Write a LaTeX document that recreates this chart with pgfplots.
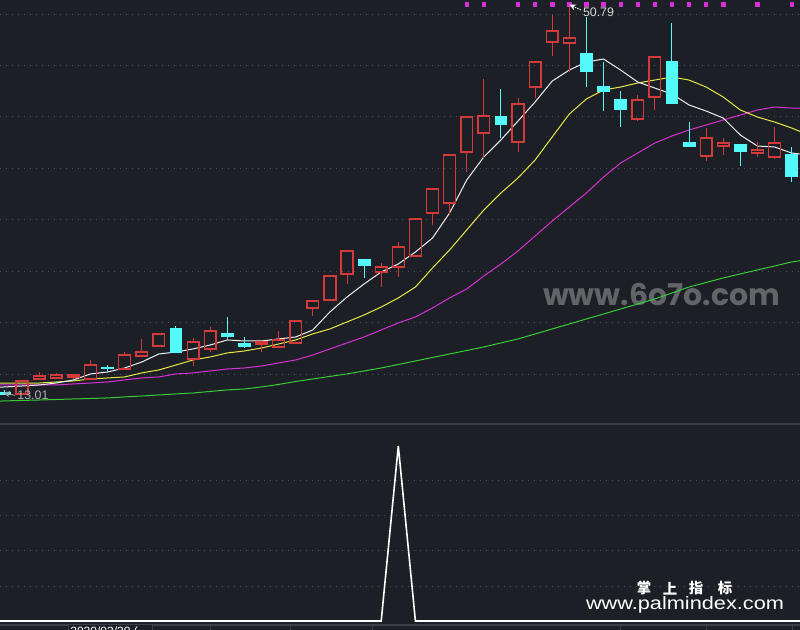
\documentclass[border=0pt]{standalone}
\usepackage{fontspec}
\setmainfont{Liberation Sans}
\newfontfamily\cjk{Noto Sans CJK SC}
\newfontfamily\wmfont{Poppins}
\usepackage{graphicx}
\usepackage{pgfplots}
\usepackage{pgfplotstable}
\pgfplotsset{compat=1.18}

\definecolor{bg}{RGB}{29,31,38}
\definecolor{gridc}{RGB}{78,82,92}
\definecolor{sepc}{RGB}{58,63,74}
\definecolor{kred}{RGB}{212,58,58}
\definecolor{kcyan}{RGB}{84,250,250}
\definecolor{maw}{RGB}{240,240,240}
\definecolor{may}{RGB}{232,232,70}
\definecolor{mam}{RGB}{214,48,214}
\definecolor{mag}{RGB}{56,204,56}
\definecolor{wmc}{RGB}{98,100,104}

% daily bars: index, open, high, low, close
\pgfplotstableread{
i o h l c
0 13.30 13.45 13.01 13.05
1 13.11 14.40 13.08 14.37
2 14.56 15.24 14.50 14.85
3 14.66 15.14 14.56 14.95
4 14.76 15.00 14.56 14.95
5 14.56 16.41 14.50 15.92
6 15.73 15.92 15.24 15.63
7 15.53 17.18 15.50 16.89
8 16.79 18.45 16.75 17.18
9 17.77 18.95 17.75 18.93
10 19.51 19.71 17.09 17.18
11 16.50 18.54 15.82 18.16
12 17.48 19.61 17.18 19.22
13 19.03 20.58 18.45 18.74
14 18.06 18.64 17.57 17.77
15 17.96 18.20 17.18 18.16
16 17.67 19.22 17.60 18.35
17 18.06 20.25 18.00 20.19
18 21.46 22.20 20.68 22.14
19 22.23 24.60 22.20 24.56
20 24.76 27.00 23.78 26.99
21 26.21 26.25 24.37 25.63
22 24.95 25.83 23.49 25.44
23 25.44 27.86 24.47 27.38
24 26.51 30.15 26.45 30.10
25 30.68 33.11 29.51 33.01
26 31.65 36.35 30.49 36.31
27 36.60 40.05 34.66 40.00
28 38.45 43.69 36.02 40.10
29 40.10 42.72 37.96 39.32
30 37.57 41.84 36.60 41.26
31 42.91 45.40 41.84 45.34
32 47.28 49.90 45.92 48.35
33 47.18 50.79 44.37 47.67
34 46.21 49.71 42.91 44.47
35 43.01 45.34 40.58 42.52
36 41.75 42.52 39.03 40.78
37 39.81 42.14 39.61 41.65
38 41.94 45.90 40.68 45.82
39 45.44 49.12 41.30 41.36
40 37.57 39.51 37.10 37.18
41 36.21 38.93 35.73 37.96
42 37.18 37.96 36.31 37.47
43 37.38 37.40 35.24 36.70
44 36.50 37.57 36.12 36.80
45 36.12 39.03 35.92 37.47
46 36.41 37.09 33.69 34.27
}\kdata

% moving averages and the lower indicator
\pgfplotstableread{
i m5 m10 m20 m60 ind
-1 13.69 14.17 13.98 12.38 0
0 13.79 14.17 13.98 12.43 0
1 13.88 14.17 13.98 12.48 0
2 13.98 14.17 13.98 12.52 0
3 14.17 14.27 13.98 12.57 0
4 14.47 14.37 14.08 12.62 0
5 15.05 14.56 14.17 12.67 0
6 15.24 14.66 14.27 12.72 0
7 15.63 14.76 14.47 12.82 0
8 16.21 15.15 14.66 12.91 0
9 16.99 15.44 14.76 13.01 0
10 17.18 15.92 15.05 13.11 0
11 17.48 16.41 15.15 13.20 0
12 17.86 16.70 15.34 13.35 0
13 18.35 17.09 15.53 13.50 0
14 18.25 17.28 15.63 13.59 0
15 18.25 17.57 15.82 13.79 0
16 18.45 17.96 16.12 14.03 0
17 18.64 18.35 16.41 14.32 0
18 19.32 18.94 16.89 14.56 0
19 21.07 19.42 17.48 14.81 0
20 22.52 20.10 18.06 15.05 0
21 23.79 20.78 18.64 15.34 0
22 24.95 21.55 19.32 15.63 0
23 25.73 22.43 20.00 15.97 1
24 26.89 23.49 20.58 16.31 0
25 28.25 25.34 21.46 16.65 0
26 30.68 27.09 22.43 16.99 0
27 33.88 29.03 23.30 17.33 0
28 36.12 30.97 24.56 17.67 0
29 37.77 32.62 25.73 18.06 0
30 39.61 34.08 26.99 18.45 0
31 41.46 35.83 28.45 18.93 0
32 43.49 38.06 29.90 19.42 0
33 44.56 40.29 31.26 19.90 0
34 45.34 41.75 32.62 20.39 0
35 45.63 42.62 34.17 20.87 0
36 44.56 42.91 35.53 21.36 0
37 43.40 43.30 36.50 21.84 0
38 42.81 43.59 37.47 22.33 0
39 42.23 43.88 38.16 22.91 0
40 41.17 43.59 38.74 23.49 0
41 40.58 42.91 39.22 23.93 0
42 39.90 41.94 39.71 24.37 0
43 38.25 40.68 40.19 24.76 0
44 37.18 40.00 40.68 25.15 0
45 37.09 39.51 40.97 25.53 0
46 36.50 38.93 40.87 25.92 0
47 36.31 38.25 40.87 26.17 0
}\madata

% signal dots along the top
\pgfplotstableread{
i v
27 50.94
28 50.94
30 50.94
31 50.94
32 50.94
33 50.94
34 50.94
35 50.94
36 50.94
37 50.94
38 50.94
39 50.94
40 50.94
41 50.94
42 50.94
44 50.94
46 50.94
}\dots

\newcommand\candle[1]{%
  \pgfplotstablegetelem{#1}{o}\of\kdata\let\kO\pgfplotsretval
  \pgfplotstablegetelem{#1}{h}\of\kdata\let\kH\pgfplotsretval
  \pgfplotstablegetelem{#1}{l}\of\kdata\let\kL\pgfplotsretval
  \pgfplotstablegetelem{#1}{c}\of\kdata\let\kC\pgfplotsretval
  \pgfmathsetmacro\kT{max(\kO,\kC)}%
  \pgfmathsetmacro\kB{min(\kO,\kC)}%
  \pgfmathsetmacro\xa{#1-0.345}%
  \pgfmathsetmacro\xb{#1+0.345}%
  \pgfmathtruncatemacro\down{\kC<\kO}%
  \ifnum\down=1
    \edef\doit{%
      \noexpand\addplot[kcyan, line width=0.5bp] coordinates {(#1,\kL) (#1,\kH)};
      \noexpand\addplot[draw=kcyan, fill=kcyan, line width=0.4bp]
        coordinates {(\xa,\kB) (\xb,\kB) (\xb,\kT) (\xa,\kT)} -- cycle;}%
  \else
    \edef\doit{%
      \noexpand\addplot[kred, line width=0.5bp] coordinates {(#1,\kT) (#1,\kH)};
      \noexpand\addplot[kred, line width=0.5bp] coordinates {(#1,\kL) (#1,\kB)};
      \noexpand\addplot[draw=kred, line width=0.7bp, line join=miter]
        coordinates {(\xa,\kB) (\xb,\kB) (\xb,\kT) (\xa,\kT)} -- cycle;}%
  \fi
  \doit
}

\tikzset{gridline/.style={gridc, line width=0.5bp, dash pattern=on 0.5bp off 2.5bp}}

\pgfplotsset{
  kax/.style={
    scale only axis, width=400bp, anchor=south west,
    xmin=-0.292, xmax=46.49,
    axis line style={draw=none},
    xtick=\empty, ytick=\empty,
    clip=true,
  }
}

\begin{document}
\begin{tikzpicture}
\useasboundingbox (0,0) rectangle (400bp,315bp);
\clip (0,0) rectangle (400bp,315bp);
\fill[bg] (0,0) rectangle (400bp,315bp);

% watermark behind the chart
\node[text=wmc, inner sep=0] at (330.75bp,168bp)
  {\resizebox{118.5bp}{!}{\wmfont\bfseries www.6o7o.com}};

% price panel
\begin{axis}[kax, at={(0,103bp)}, height=212bp,
  ymin=10.19, ymax=51.36]
  \pgfplotsinvokeforeach{15,20,...,50}{
    \draw[gridline] (axis cs:-1,#1) -- (axis cs:48,#1);}
  \addplot[mag, line width=0.5bp] table[x=i, y=m60] {\madata};
  \addplot[mam, line width=0.5bp] table[x=i, y=m20] {\madata};
  \addplot[may, line width=0.5bp] table[x=i, y=m10] {\madata};
  \addplot[maw, line width=0.5bp] table[x=i, y=m5] {\madata};
  \pgfplotsinvokeforeach{0,...,46}{\candle{#1}}
  \addplot[only marks, mark=square*, mark size=0.85bp, mam,
    mark options={draw=mam, fill=mam}] table[x=i, y=v] {\dots};
\end{axis}

% indicator panel
\begin{axis}[kax, at={(0,0)}, height=103bp,
  ymin=-0.0514, ymax=1.1257]
  \pgfplotsinvokeforeach{0.2,0.4,0.6,0.8}{
    \draw[gridline] (axis cs:-1,#1) -- (axis cs:48,#1);}
  \addplot[white, line width=0.8bp] table[x=i, y=ind] {\madata};
\end{axis}

% panel separator and date strip
\draw[sepc, line width=0.7bp] (0,103bp) -- (400bp,103bp);
\draw[sepc, line width=0.7bp] (0,2.5bp) -- (400bp,2.5bp);
\foreach \tx in {105,145,186,310,353,396}
  \draw[sepc, line width=0.5bp] (\tx bp,2.5bp) -- (\tx bp,0);
\draw[sepc, fill=bg, line width=0.5bp] (34bp,-5bp) rectangle (76bp,2.5bp);
\node[anchor=north west, inner sep=0, text=white] at (35bp,1.8bp)
  {\fontsize{6bp}{7bp}\selectfont 2020/03/30 (};

% extreme value labels
\draw[-stealth, gray!70!white, line width=0.4bp] (7.5bp,117.3bp) -- (1.8bp,118.6bp);
\node[anchor=west, inner sep=0, text=gray!60!white] at (8.5bp,117.3bp)
  {\fontsize{6.2bp}{7bp}\selectfont 13.01};
\draw[-stealth, white, line width=0.4bp, dash pattern=on 0.8bp off 0.5bp]
  (290.5bp,310bp) -- (284.8bp,312.6bp);
\node[anchor=west, inner sep=0, text=white!85!black] at (291.3bp,308.8bp)
  {\fontsize{6.2bp}{7bp}\selectfont 50.79};

% site marks
\foreach \cx/\ch in {322/掌,335/上,348/指,362.5/标}
  \node[text=white, inner sep=0] at (\cx bp,20.8bp)
    {\cjk\bfseries\fontsize{7.2bp}{8bp}\selectfont \ch};
\node[anchor=base, inner sep=0, text=white] at (342.5bp,10bp)
  {\resizebox{99bp}{6.5bp}{www.palmindex.com}};
\end{tikzpicture}
\end{document}
